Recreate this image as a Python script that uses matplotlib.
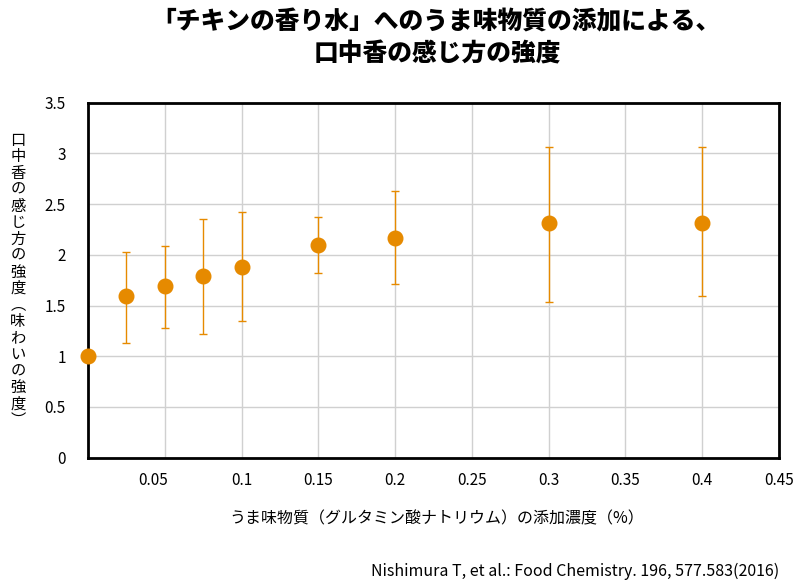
import numpy as np
import matplotlib
matplotlib.use('Agg')
import matplotlib.pyplot as plt
from matplotlib.transforms import ScaledTranslation

plt.rcParams['font.family'] = ['Noto Sans CJK JP', 'DejaVu Sans']

# データ
conc = [0, 0.025, 0.05, 0.075, 0.1, 0.15, 0.2, 0.3, 0.4]
score = [1.0, 1.59, 1.69, 1.79, 1.88, 2.10, 2.17, 2.31, 2.31]
upper = [1.0, 2.03, 2.09, 2.35, 2.42, 2.37, 2.63, 3.06, 3.06]
lower = [1.0, 1.13, 1.28, 1.22, 1.35, 1.82, 1.71, 1.54, 1.59]

xticks = [0.05, 0.1, 0.15, 0.2, 0.25, 0.3, 0.35, 0.4, 0.45]
xtick_labels = ['0.05', '0.1', '0.15', '0.2', '0.25', '0.3', '0.35', '0.4', '0.45']
yticks = [0, 0.5, 1, 1.5, 2, 2.5, 3, 3.5]
ytick_labels = ['0', '0.5', '1', '1.5', '2', '2.5', '3', '3.5']

title1 = '「チキンの香り水」へのうま味物質の添加による、'
title2 = '口中香の感じ方の強度'
xlabel = 'うま味物質（グルタミン酸ナトリウム）の添加濃度（%）'
ylabel = '口中香の感じ方の強度︵味わいの強度︶'
source = 'Nishimura T, et al.: Food Chemistry. 196, 577.583(2016)'

color = '#E68A00'

fig = plt.figure(figsize=(7.96, 5.82), dpi=100)
ax = fig.add_axes([88 / 796, 1 - 457.7 / 582, (779 - 88) / 796, (457.7 - 102.7) / 582])

score = np.array(score)
yerr = np.array([score - np.array(lower), np.array(upper) - score])
ax.errorbar(conc, score, yerr=yerr, fmt='none', ecolor=color, elinewidth=1,
            capsize=3, capthick=1, zorder=3, clip_on=False)
ax.plot(conc, score, 'o', color=color, markersize=10.5, zorder=4, clip_on=False)

ax.set_xlim(0, 0.45)
ax.set_ylim(0, 3.5)
ax.set_xticks(xticks)
ax.set_xticklabels(xtick_labels, fontsize=11)
ax.set_yticks(yticks)
ax.set_yticklabels(ytick_labels, fontsize=11)
ax.tick_params(axis='both', length=0)
ax.tick_params(axis='x', pad=10)
ax.tick_params(axis='y', pad=16)
ax.grid(True, color='#d0d0d0', linewidth=1)
ax.set_axisbelow(True)
for s in ax.spines.values():
    s.set_linewidth(2)
    s.set_color('black')

# 元の図では 0.05 のラベルだけ左にずれている
lbl = ax.get_xticklabels()[0]
lbl.set_transform(lbl.get_transform() + ScaledTranslation(-12 / 100, 0, fig.dpi_scale_trans))

# タイトル
fig.text(436 / 796, 1 - 21 / 582, title1, ha='center', va='center',
         fontsize=17.8, fontweight='heavy')
fig.text(437 / 796, 1 - 54 / 582, title2, ha='center', va='center',
         fontsize=17.8, fontweight='heavy')

# 軸ラベル
fig.text(437 / 796, 1 - 519 / 582, xlabel, ha='center', va='center', fontsize=11.5)

# 縦書きの縦軸ラベル
y0 = 140
dy = 16.5
for i, ch in enumerate(ylabel):
    fig.text(18 / 796, 1 - (y0 + i * dy) / 582, ch, ha='center', va='center', fontsize=11)

# 出典
fig.text(779 / 796, 1 - 571 / 582, source, ha='right', va='center', fontsize=11.5)

fig.savefig('out.png', dpi=100)
